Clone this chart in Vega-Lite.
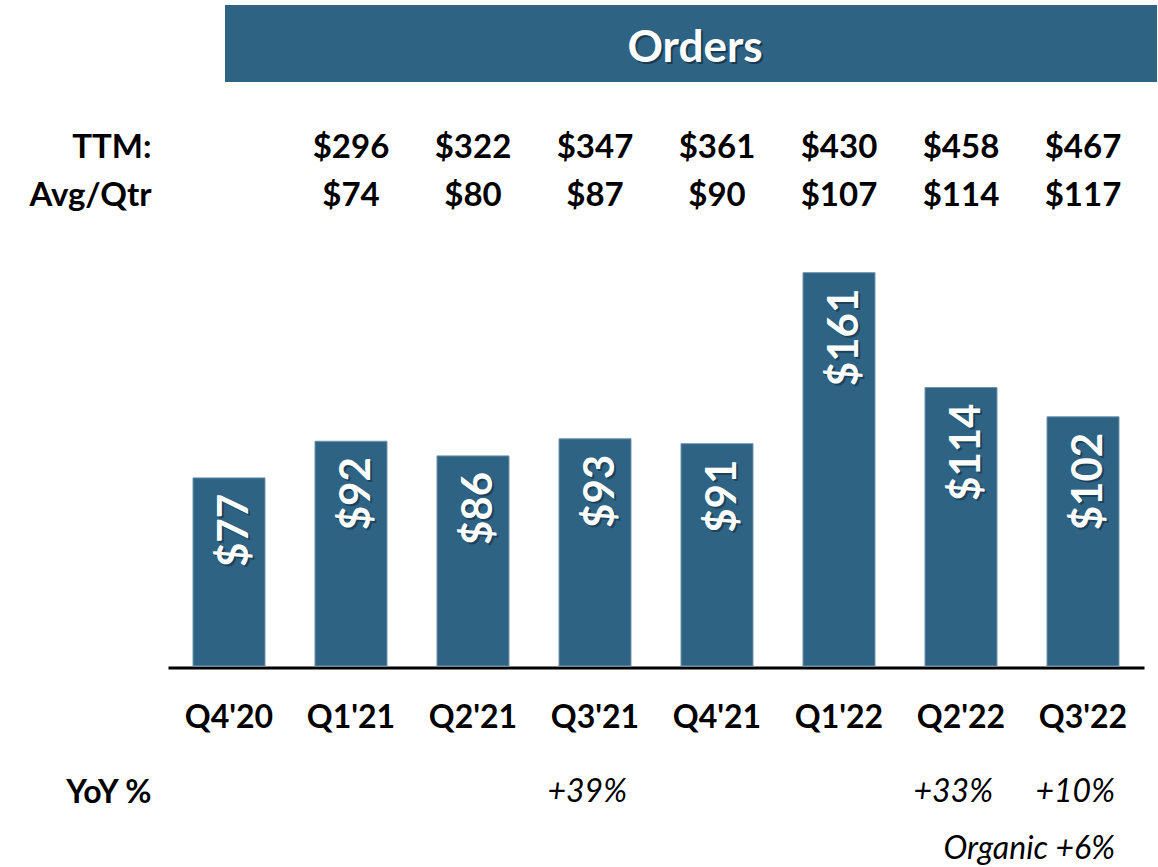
{
  "$schema": "https://vega.github.io/schema/vega-lite/v6.json",
  "padding": {"left": 28, "top": 5, "right": 0, "bottom": 0},
  "background": "white",
  "config": {"view": {"stroke": null}, "font": "Lato"},
  "bounds": "flush",
  "spacing": 23,
  "datasets": {
    "bars": [
      {"quarter": "Q4'20", "orders": 77},
      {"quarter": "Q1'21", "orders": 92},
      {"quarter": "Q2'21", "orders": 86},
      {"quarter": "Q3'21", "orders": 93},
      {"quarter": "Q4'21", "orders": 91},
      {"quarter": "Q1'22", "orders": 161},
      {"quarter": "Q2'22", "orders": 114},
      {"quarter": "Q3'22", "orders": 102}
    ],
    "table": [
      {"quarter": "Q1'21", "metric": "TTM:", "value": 296},
      {"quarter": "Q2'21", "metric": "TTM:", "value": 322},
      {"quarter": "Q3'21", "metric": "TTM:", "value": 347},
      {"quarter": "Q4'21", "metric": "TTM:", "value": 361},
      {"quarter": "Q1'22", "metric": "TTM:", "value": 430},
      {"quarter": "Q2'22", "metric": "TTM:", "value": 458},
      {"quarter": "Q3'22", "metric": "TTM:", "value": 467},
      {"quarter": "Q1'21", "metric": "Avg/Qtr", "value": 74},
      {"quarter": "Q2'21", "metric": "Avg/Qtr", "value": 80},
      {"quarter": "Q3'21", "metric": "Avg/Qtr", "value": 87},
      {"quarter": "Q4'21", "metric": "Avg/Qtr", "value": 90},
      {"quarter": "Q1'22", "metric": "Avg/Qtr", "value": 107},
      {"quarter": "Q2'22", "metric": "Avg/Qtr", "value": 114},
      {"quarter": "Q3'22", "metric": "Avg/Qtr", "value": 117}
    ],
    "yoy": [
      {"quarter": "Q3'21", "row": "YoY %", "text": "+39%"},
      {"quarter": "Q2'22", "row": "YoY %", "text": "+33%"},
      {"quarter": "Q3'22", "row": "YoY %", "text": "+10%"},
      {"quarter": "Q3'22", "row": "Organic", "text": "Organic +6%"}
    ],
    "banner": [{"title": "Orders"}],
    "blank": [{"title": ""}]
  },
  "vconcat": [
    {
      "bounds": "flush",
      "spacing": 20,
      "hconcat": [
        {
          "width": 37,
          "height": 77,
          "data": {"name": "blank"},
          "mark": {"type": "text"},
          "encoding": {"text": {"field": "title", "type": "nominal"}}
        },
        {
          "width": 932,
          "height": 77,
          "view": {"fill": "#2E6384", "stroke": null},
          "data": {"name": "banner"},
          "layer": [
            {
              "mark": {"type": "text", "fontSize": 44, "fontWeight": "bold", "color": "#0b2233", "opacity": 0.6, "dx": 6, "dy": 7, "baseline": "middle", "align": "center"},
              "encoding": {"text": {"field": "title", "type": "nominal"}}
            },
            {
              "mark": {"type": "text", "fontSize": 44, "fontWeight": "bold", "color": "white", "dx": 4, "dy": 5, "baseline": "middle", "align": "center"},
              "encoding": {"text": {"field": "title", "type": "nominal"}}
            }
          ]
        }
      ]
    },
    {
      "width": 976,
      "height": 192,
      "data": {"name": "table"},
      "mark": {"type": "text", "fontSize": 33, "fontWeight": "bold", "color": "black", "align": "center", "baseline": "middle"},
      "encoding": {
        "x": {
          "field": "quarter", "type": "nominal",
          "scale": {"type": "band", "domain": ["Q4'20", "Q1'21", "Q2'21", "Q3'21", "Q4'21", "Q1'22", "Q2'22", "Q3'22"], "paddingInner": 0.41, "paddingOuter": 0.205},
          "axis": null
        },
        "y": {
          "field": "metric", "type": "nominal",
          "scale": {"type": "band", "domain": ["TTM:", "Avg/Qtr"], "paddingInner": 0, "paddingOuter": 1, "align": 1},
          "axis": {"title": null, "domain": false, "ticks": false, "tickSize": 0, "labelPadding": 17, "labelFontSize": 33, "labelFontWeight": "bold", "labelColor": "black", "labelAlign": "right", "labelBaseline": "middle"}
        },
        "text": {"field": "value", "type": "quantitative", "format": "$.0f"}
      }
    },
    {
      "width": 976,
      "height": 423,
      "data": {"name": "bars"},
      "encoding": {
        "x": {
          "field": "quarter", "type": "nominal",
          "scale": {"type": "band", "domain": ["Q4'20", "Q1'21", "Q2'21", "Q3'21", "Q4'21", "Q1'22", "Q2'22", "Q3'22"], "paddingInner": 0.41, "paddingOuter": 0.205},
          "axis": {"title": null, "ticks": false, "tickSize": 0, "domainColor": "black", "domainWidth": 3, "offset": 1.5, "labelFontSize": 32, "labelFontWeight": "bold", "labelColor": "black", "labelPadding": 49.5, "labelBaseline": "middle", "labelAngle": 0, "labelOverlap": false, "labelFlush": false}
        },
        "y": {
          "field": "orders", "type": "quantitative",
          "scale": {"domain": [0, 173.15], "nice": false, "zero": true},
          "axis": null
        }
      },
      "layer": [
        {"mark": {"type": "bar", "color": "#2E6384", "stroke": "#6D93AF", "strokeWidth": 1}},
        {
          "mark": {"type": "text", "angle": 270, "align": "right", "baseline": "middle", "dx": -18, "dy": 8, "fontSize": 42, "fontWeight": "bold", "color": "#0b2233", "opacity": 0.5},
          "encoding": {"text": {"field": "orders", "type": "quantitative", "format": "$.0f"}}
        },
        {
          "mark": {"type": "text", "angle": 270, "align": "right", "baseline": "middle", "dx": -16, "dy": 6, "fontSize": 42, "fontWeight": "bold", "color": "white"},
          "encoding": {"text": {"field": "orders", "type": "quantitative", "format": "$.0f"}}
        }
      ]
    },
    {
      "width": 976,
      "height": 160,
      "data": {"name": "yoy"},
      "mark": {"type": "text", "fontSize": 32, "fontStyle": "italic", "color": "black", "align": "right", "baseline": "middle", "dx": -4},
      "encoding": {
        "x": {
          "field": "quarter", "type": "nominal", "bandPosition": 1,
          "scale": {"type": "band", "domain": ["Q4'20", "Q1'21", "Q2'21", "Q3'21", "Q4'21", "Q1'22", "Q2'22", "Q3'22"], "paddingInner": 0.41, "paddingOuter": 0.205},
          "axis": null
        },
        "y": {
          "field": "row", "type": "nominal",
          "scale": {"type": "point", "domain": ["YoY %", "Organic"], "padding": 0.904, "align": 1},
          "axis": {"title": null, "domain": false, "ticks": false, "tickSize": 0, "labelPadding": 17, "labelFontSize": 32, "labelFontWeight": "bold", "labelFontStyle": "normal", "labelColor": "black", "labelAlign": "right", "labelBaseline": "middle", "labelExpr": "datum.value == 'Organic' ? '' : datum.label"}
        },
        "text": {"field": "text", "type": "nominal"}
      }
    }
  ]
}
